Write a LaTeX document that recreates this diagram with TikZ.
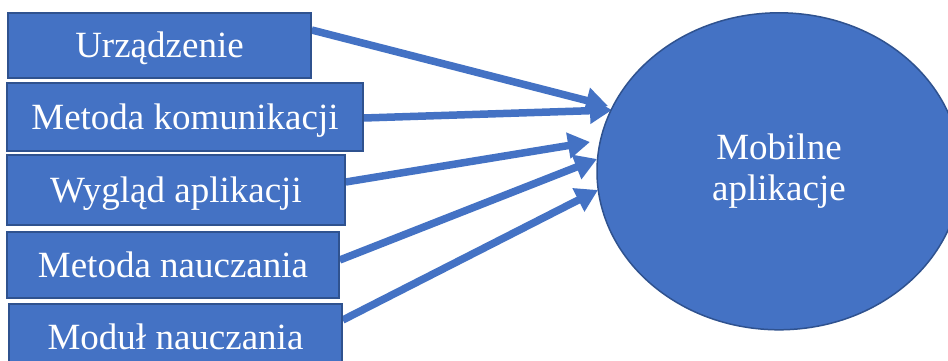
\documentclass[tikz,border=0pt]{standalone}
\usepackage{fontspec}
\setmainfont{Liberation Serif}
\usetikzlibrary{arrows.meta,shapes.geometric,backgrounds}

\definecolor{boxblue}{HTML}{4472C4}
\definecolor{edgeblue}{HTML}{2F528F}

\tikzset{
  factorbox/.style={draw=edgeblue, line width=1.5pt, fill=boxblue,
    text=white, inner sep=0pt, anchor=center,
    font=\fontsize{37}{41}\selectfont,
    text height=24.5pt, text depth=0pt},
  hub/.style={ellipse, draw=edgeblue, line width=1.5pt, fill=boxblue,
    text=white, inner sep=0pt, align=center,
    font=\fontsize{37}{41}\selectfont},
  influence/.style={draw=boxblue, line width=7.5pt,
    -{Triangle[length=22pt,width=25pt]}}
}

\begin{document}
\begin{tikzpicture}[x=1pt,y=-1pt]
  \clip (0,0) rectangle (948,361);

  % factor boxes on the left
  \node[factorbox, minimum width=303pt, minimum height=65pt] (b1) at (159.5,45.5) {Urządzenie};
  \node[factorbox, minimum width=356pt, minimum height=68pt] (b2) at (185,117) {Metoda komunikacji};
  \node[factorbox, minimum width=338pt, minimum height=70pt] (b3) at (176,190) {Wygląd aplikacji};
  \node[factorbox, minimum width=332pt, minimum height=66pt] (b4) at (173,265) {Metoda nauczania};
  \node[factorbox, minimum width=333pt, minimum height=66pt] (b5) at (175.5,337) {Moduł nauczania};

  % central ellipse
  \node[hub, minimum width=364pt, minimum height=317pt] (hub) at (779,171.3)
    {\raisebox{-3pt}{Mobilne}\\\raisebox{-3pt}{aplikacje}};

  % arrow tips resting on the ellipse
  \coordinate (t1) at (608,106);
  \coordinate (t2) at (612,110);
  \coordinate (t3) at (590,142);
  \coordinate (t4) at (597,159);
  \coordinate (t5) at (598,190);

  \begin{scope}[on background layer]
    \fill[white] (0,0) rectangle (948,361);
    \draw[influence] ([yshift=15.5pt]b1.east) -- (t1);
    \draw[influence] ([yshift=-1pt]b2.east) -- (t2);
    \draw[influence] ([yshift=8pt]b3.east) -- (t3);
    \draw[influence] ([yshift=5pt]b4.east) -- (t4);
    \draw[influence] ([yshift=17pt]b5.east) -- (t5);
  \end{scope}
\end{tikzpicture}
\end{document}
